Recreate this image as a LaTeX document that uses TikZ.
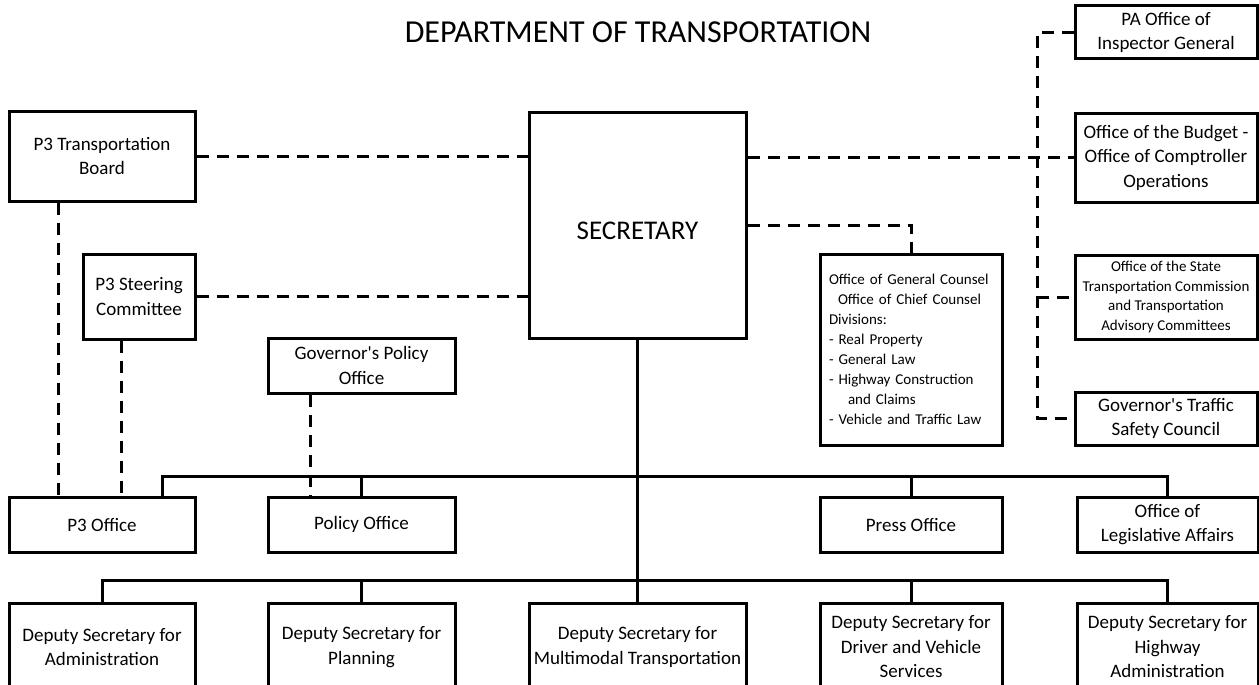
\documentclass[tikz,border=0pt]{standalone}
\usepackage{fontspec}
\setmainfont{Carlito}
\begin{document}
\begin{tikzpicture}[x=1pt,y=-1pt,
  box/.style={draw=black,line width=3pt,rectangle,inner sep=0pt,align=center,
    font=\fontsize{19}{24.5}\selectfont},
  small/.style={font=\fontsize{15}{19.5}\selectfont},
  conn/.style={draw=black,line width=3pt},
  dconn/.style={draw=black,line width=3pt,dash pattern=on 12pt off 8pt}]
\useasboundingbox (0,0) rectangle (1259,685);
\clip (0,0) rectangle (1259,685);
\node[anchor=base,inner sep=0pt,font=\fontsize{32}{38}\selectfont] (title) at (638,43) {DEPARTMENT OF TRANSPORTATION};

% boxes
\node[box,minimum width=186,minimum height=90] (p3tb) at (102,156) {P3 Transportation\\Board};
\node[box,minimum width=112,minimum height=85] (st) at (139,296.5) {P3 Steering\\Committee};
\node[box,minimum width=217,minimum height=226] (sec) at (637.5,225) {};
\node[inner sep=0pt,font=\fontsize{27}{32}\selectfont] (sectext) at (637.5,230.5) {SECRETARY};
\node[box,minimum width=182,minimum height=53] (pa) at (1166,32.5) {PA Office of\\Inspector General};
\node[box,minimum width=182,minimum height=89] (bud) at (1166,157.5) {Office of the Budget -\\Office of Comptroller\\Operations};
\node[box,small,minimum width=182,minimum height=84] (stc) at (1166,297) {Office of the State\\Transportation Commission\\and Transportation\\Advisory Committees};
\node[box,minimum width=182,minimum height=53] (gtsc) at (1166,418.5) {Governor\textquotesingle s Traffic\\Safety Council};
\node[box,font=\fontsize{15}{20}\selectfont,align=left,text width=164pt,inner xsep=9pt,minimum height=191] (gc) at (911,349.5)
  {Office of General Counsel\\\hspace*{9pt}Office of Chief Counsel\\Divisions:\\- Real Property\\- General Law\\- Highway Construction\\\hspace*{19pt}and Claims\\- Vehicle and Traffic Law};
\node[box,minimum width=187,minimum height=55] (gpo) at (361.5,365.5) {Governor\textquotesingle s Policy\\Office};
\node[box,minimum width=186,minimum height=55] (p3o) at (102,524.5) {P3 Office};
\node[box,minimum width=187,minimum height=55] (pol) at (361.5,524.5) {Policy Office};
\node[box,minimum width=182,minimum height=55] (prs) at (911,524.5) {Press Office};
\node[box,minimum width=181,minimum height=55] (leg) at (1167.5,524.5) {Office of\\Legislative Affairs};
\node[box,minimum width=186,minimum height=88] (adm) at (102,647) {Deputy Secretary for\\Administration};
\node[box,minimum width=187,minimum height=88] (pln) at (361.5,647) {Deputy Secretary for\\Planning};
\node[box,minimum width=217,minimum height=88] (mm) at (637.5,647) {Deputy Secretary for\\Multimodal Transportation};
\node[box,minimum width=182,minimum height=88] (drv) at (911,647) {Deputy Secretary for\\Driver and Vehicle\\Services};
\node[box,minimum width=181,minimum height=88] (hwy) at (1167.5,647) {Deputy Secretary for\\Highway\\Administration};

% helper coordinates
\coordinate (b1L) at (162,476);
\coordinate (b2) at (0,580);
\coordinate (rc) at (1037,0);
\coordinate (x1) at (58,0);
\coordinate (x2) at (121,0);
\coordinate (gpx) at (310,0);

% solid connectors
\draw[conn] (sec.south) -- (mm.north);
\draw[conn] (b1L |- p3o.north) -- (b1L) -- (b1L -| leg.north) -- (leg.north);
\draw[conn] (pol.north) -- (pol.north |- b1L);
\draw[conn] (prs.north) -- (prs.north |- b1L);
\draw[conn] (adm.north) -- (adm.north |- b2) -- (b2 -| hwy.north) -- (hwy.north);
\draw[conn] (pln.north) -- (pln.north |- b2);
\draw[conn] (drv.north) -- (drv.north |- b2);

% dashed connectors
\draw[dconn] (p3tb.east) -- (p3tb.east -| sec.west);
\draw[dconn] (st.east) -- (st.east -| sec.west);
\draw[dconn] (x1 |- p3tb.south) -- (x1 |- p3o.north);
\draw[dconn] (x2 |- st.south) -- (x2 |- p3o.north);
\draw[dconn] (gpx |- gpo.south) -- (gpx |- pol.north);
\draw[dconn] (sec.east |- bud.west) -- (bud.west);
\draw[dconn] (sec.east) -- (sec.east -| gc.north) -- (gc.north);
\draw[dconn] (pa.west) -- (pa.west -| rc) -- (gtsc.west -| rc) -- (gtsc.west);
\draw[dconn] (stc.west -| rc) -- (stc.west);
\end{tikzpicture}
\end{document}
